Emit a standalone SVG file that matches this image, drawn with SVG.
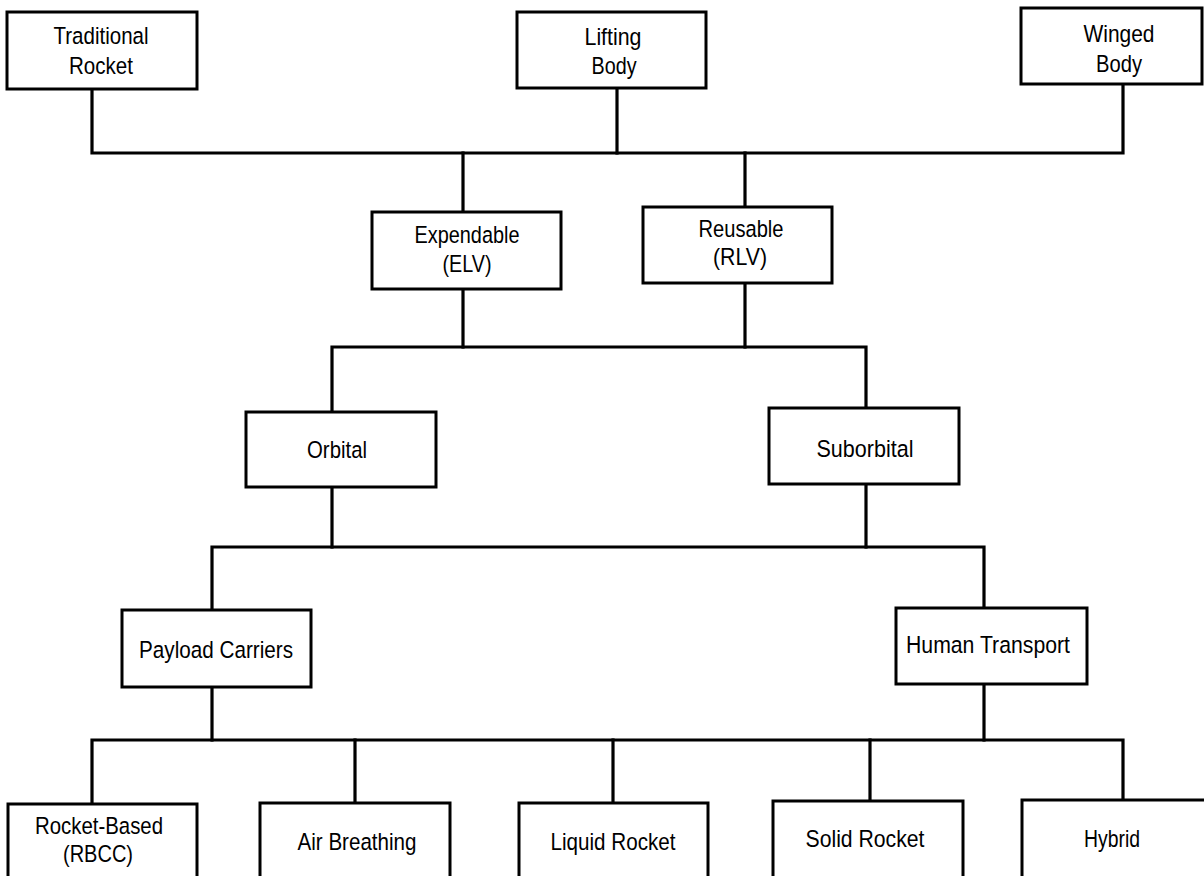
<svg xmlns="http://www.w3.org/2000/svg" width="1204" height="876" viewBox="0 0 1204 876">
<style>
.box{fill:#fff;stroke:#000;stroke-width:3}
.lbl{font-family:"Liberation Sans",Arial,sans-serif;font-size:24.5px;fill:#000;text-anchor:middle}
.con{fill:none;stroke:#000;stroke-width:3.2;stroke-linecap:square;stroke-linejoin:miter}
</style>
<rect width="1204" height="876" fill="#fff"/>
<g id="connectors">
<path class="con" d="M92,89 V153 H1123 V84"/>
<path class="con" d="M617,88 V153"/>
<path class="con" d="M463,153 V212"/>
<path class="con" d="M745,153 V207"/>
<path class="con" d="M463,289 V347"/>
<path class="con" d="M745,283 V347"/>
<path class="con" d="M332,412 V347 H866 V408"/>
<path class="con" d="M332,487 V547"/>
<path class="con" d="M866,484 V547"/>
<path class="con" d="M212,610 V547 H984 V608"/>
<path class="con" d="M212,687 V740"/>
<path class="con" d="M984,684 V740"/>
<path class="con" d="M92,804 V740 H1123 V800"/>
<path class="con" d="M355,740 V803"/>
<path class="con" d="M613,740 V803"/>
<path class="con" d="M870,740 V801"/>
</g>
<g id="traditional-rocket"><rect class="box" x="7" y="12" width="190" height="77"/><text class="lbl" x="101" y="44" textLength="95" lengthAdjust="spacingAndGlyphs">Traditional</text><text class="lbl" x="101" y="74" textLength="64" lengthAdjust="spacingAndGlyphs">Rocket</text></g>
<g id="lifting-body"><rect class="box" x="517" y="12" width="189" height="76"/><text class="lbl" x="613" y="45" textLength="57" lengthAdjust="spacingAndGlyphs">Lifting</text><text class="lbl" x="614" y="74" textLength="45" lengthAdjust="spacingAndGlyphs">Body</text></g>
<g id="winged-body"><rect class="box" x="1021" y="8" width="181" height="76"/><text class="lbl" x="1119" y="42" textLength="71" lengthAdjust="spacingAndGlyphs">Winged</text><text class="lbl" x="1119" y="72" textLength="46" lengthAdjust="spacingAndGlyphs">Body</text></g>
<g id="expendable"><rect class="box" x="372" y="212" width="189" height="77"/><text class="lbl" x="467" y="243" textLength="105" lengthAdjust="spacingAndGlyphs">Expendable</text><text class="lbl" x="467" y="272" textLength="49" lengthAdjust="spacingAndGlyphs">(ELV)</text></g>
<g id="reusable"><rect class="box" x="643" y="207" width="189" height="76"/><text class="lbl" x="741" y="237" textLength="85" lengthAdjust="spacingAndGlyphs">Reusable</text><text class="lbl" x="740" y="265" textLength="54" lengthAdjust="spacingAndGlyphs">(RLV)</text></g>
<g id="orbital"><rect class="box" x="246" y="412" width="190" height="75"/><text class="lbl" x="337" y="458" textLength="60" lengthAdjust="spacingAndGlyphs">Orbital</text></g>
<g id="suborbital"><rect class="box" x="769" y="408" width="190" height="76"/><text class="lbl" x="865" y="457" textLength="97" lengthAdjust="spacingAndGlyphs">Suborbital</text></g>
<g id="payload-carriers"><rect class="box" x="122" y="610" width="189" height="77"/><text class="lbl" x="216" y="658" textLength="154" lengthAdjust="spacingAndGlyphs">Payload Carriers</text></g>
<g id="human-transport"><rect class="box" x="896" y="608" width="191" height="76"/><text class="lbl" x="988" y="653" textLength="164" lengthAdjust="spacingAndGlyphs">Human Transport</text></g>
<g id="rocket-based"><rect class="box" x="8" y="804" width="189" height="90"/><text class="lbl" x="99" y="834" textLength="128" lengthAdjust="spacingAndGlyphs">Rocket-Based</text><text class="lbl" x="98" y="862" textLength="70" lengthAdjust="spacingAndGlyphs">(RBCC)</text></g>
<g id="air-breathing"><rect class="box" x="260" y="803" width="190" height="90"/><text class="lbl" x="357" y="850" textLength="119" lengthAdjust="spacingAndGlyphs">Air Breathing</text></g>
<g id="liquid-rocket"><rect class="box" x="519" y="803" width="189" height="90"/><text class="lbl" x="613" y="850" textLength="125" lengthAdjust="spacingAndGlyphs">Liquid Rocket</text></g>
<g id="solid-rocket"><rect class="box" x="773" y="801" width="190" height="90"/><text class="lbl" x="865" y="847" textLength="119" lengthAdjust="spacingAndGlyphs">Solid Rocket</text></g>
<g id="hybrid"><rect class="box" x="1022" y="800" width="190" height="90"/><text class="lbl" x="1112" y="847" textLength="56" lengthAdjust="spacingAndGlyphs">Hybrid</text></g>
</svg>
